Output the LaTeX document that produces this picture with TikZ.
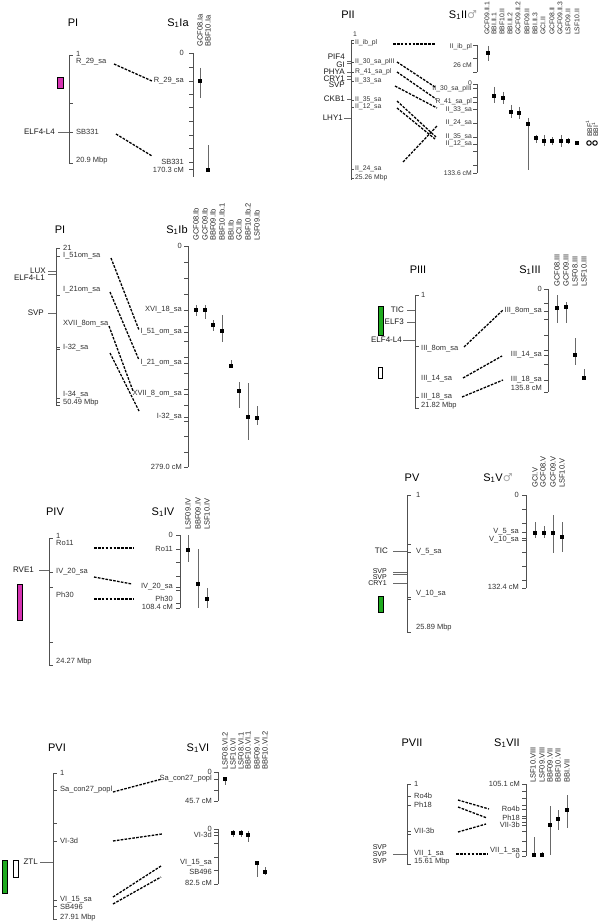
\documentclass[tikz,border=0pt]{standalone}
\usepackage{fontspec}
\setmainfont{Liberation Sans}
\newfontfamily\zdejavu{DejaVu Sans}
\definecolor{zmag}{RGB}{214,51,178}
\definecolor{zgrn}{RGB}{30,170,30}
\definecolor{zax}{RGB}{80,80,80}
\definecolor{zbarc}{RGB}{105,105,105}
\newcounter{zc}
\newcommand\zNid{\stepcounter{zc}\edef\zn{n\arabic{zc}}}
\newcommand\zTtl[3]{\zNid\node[zttl] (\zn) at (#1,#2) {#3};}
\newcommand\zCol[3]{\zNid\node[zclab,rotate=90,anchor=west] (\zn) at (#1,#2) {#3};}
\newcommand\zPax[3]{\draw[zaxis] (#1,#2) -- (#1,#3);}
\newcommand\zPtk[3][4]{\draw[zaxis] (#2,#3) -- ++(#1,0);}
\newcommand\zGtk[3][4]{\draw[zaxis] (#2,#3) -- ++(-#1,0);}
\newcommand\zMlab[3]{\zNid\node[zmlab,anchor=west] (\zn) at (#1,#2) {#3};}
\newcommand\zGlab[3]{\zNid\node[zmlab,anchor=east] (\zn) at (#1,#2) {#3};}
\newcommand\zGname[3]{\zNid\node[zglab,anchor=east] (\zn) at (#1,#2) {#3};}
\newcommand\zGline[3]{\draw[zgl] (#1,#2) -- ++(-#3,0);}
\newcommand\zDash[4]{\zNid\coordinate (\zn a) at (#1,#2);\coordinate (\zn b) at (#3,#4);\draw[zdash] (\zn a) -- (\zn b);}
\newcommand\zDpt[4]{\draw[zebar] (#1,#3) -- (#1,#4);\zNid\node[zsq] (\zn) at (#1,#2) {};}
\newcommand\zBox[5]{\draw[line width=1pt,fill=#5] (#1,#2) rectangle (#3,#4);}
\tikzset{
 zaxis/.style={draw=zax, line width=0.8pt},
 zgl/.style={draw=zbarc, line width=0.8pt},
 zttl/.style={font=\fontsize{11}{12}\selectfont, inner sep=0pt},
 zclab/.style={font=\fontsize{7.5}{8}\selectfont, inner sep=0pt, text=black!85},
 zmlab/.style={font=\fontsize{7.5}{8}\selectfont, inner sep=0pt, text=black!80},
 zglab/.style={font=\fontsize{8}{9}\selectfont, inner sep=0pt, text=black!90},
 zgsm/.style={font=\fontsize{7}{7}\selectfont},
 zdash/.style={line width=1.3pt, dash pattern=on 2.6pt off 1.3pt},
 zebar/.style={draw=zbarc, line width=0.9pt},
 zsq/.style={fill=black, minimum size=4.5pt, inner sep=0pt, rectangle},
 zcirc/.style={circle, draw=black, line width=1pt, minimum size=4.5pt, inner sep=0pt},
}
\begin{document}
\begin{tikzpicture}[x=1pt,y=-1pt]
\fill[white] (0,0) rectangle (600,923);
\useasboundingbox (0,0) rectangle (600,923);

% ---------------- Panel PI / S1Ia
\zTtl{73}{23}{PI}
\zTtl{178}{23}{S\textsubscript{1}Ia}
\zCol{200}{47}{GCF08.Ia}
\zCol{208}{47}{BBF10.Ia}
\zPax{69}{55}{163}
\foreach \y in {55,103,132,163} {\zPtk{69}{\y}}
\zMlab{76}{54}{1}
\zMlab{76}{62}{R\_29\_sa}
\zMlab{76}{132}{SB331}
\zMlab{76}{161}{20.9 Mbp}
\zGline{69}{132}{11}
\zGname{55}{132}{ELF4-L4}
\zBox{57}{78}{63}{89}{zmag}
\zDash{114}{64}{152}{81}
\zDash{116}{134}{152}{156}
\zPax{193}{53}{177}
\foreach \y in {53,67,81,94,107,121,135,148,162,169} {\zGtk{193}{\y}}
\zGlab{184}{53}{0}
\zGlab{184}{81}{R\_29\_sa}
\zGlab{184}{162}{SB331}
\zGlab{184}{169.5}{170.3 cM}
\zDpt{200}{81}{68}{98}
\zDpt{208}{170}{145}{170}

% ---------------- Panel PII / S1II
\begin{scope}[zmlab/.append style={font=\fontsize{6.8}{7}\selectfont},zclab/.append style={font=\fontsize{6.8}{7}\selectfont}]
\zTtl{348}{15}{PII}
\zTtl{463}{15}{S\textsubscript{1}II{\zdejavu\color{black!35}♂}}
\foreach \x/\t in {487/GCF09.II.1,494/BBI.II.1,502/BBF10.II,510/BBI.II.2,518/GCF09.II.2,527/BBF09.II,535/BBI.II.3,543/GCI.II,552/GCF08.II,560/GCF09.II.3,568/LSF09.II,577/LSF10.II} {\zCol{\x}{35}{\t}}
\zPax{351}{40}{180}
\foreach \y in {40,43,62,72,81,100,107,169,178} {\zPtk[3]{351}{\y}}
\zMlab{353}{34}{1}
\zMlab{355}{43}{II\_ib\_pl}
\zMlab{355}{62}{II\_30\_sa\_pIII}
\zMlab{355}{72}{R\_41\_sa\_pl}
\zMlab{355}{81}{II\_33\_sa}
\zMlab{355}{100}{II\_35\_sa}
\zMlab{355}{107}{II\_12\_sa}
\zMlab{355}{169}{II\_24\_sa}
\zMlab{355}{178}{25.26 Mbp}
\foreach \y in {61,63,72,76,79,99} {\zGline{351}{\y}{4}}
\zGline{351}{118}{7}
\zGname{345}{57}{PIF4}
\zGname{345}{64.5}{GI}
\zGname{345}{72}{PHYA}
\zGname{345}{78.5}{CRY1}
\zGname{345}{85}{SVP}
\zGname{345}{99}{CKB1}
\zGname{343}{118}{LHY1}
\zDash{393}{44}{435}{44}
\zDash{397}{62}{435}{87}
\zDash{397}{72}{436}{99}
\zDash{395}{86}{437}{108}
\zDash{397}{101}{436}{137}
\zDash{397}{108}{435}{139}
\zDash{403}{162}{437}{126}
\zPax{477}{45}{72}
\foreach \y in {45,58,72} {\zGtk{477}{\y}}
\zGlab{472}{47}{II\_ib\_pl}
\zGlab{472}{65}{26 cM}
\zPax{477}{84}{173}
\foreach \y in {84,88,97,102,109,123,137,144,151,165,173} {\zGtk{477}{\y}}
\zGlab{472}{83}{0}
\zGlab{472}{89}{II\_30\_sa\_pIII}
\zGlab{472}{102}{R\_41\_sa\_pl}
\zGlab{472}{109.5}{II\_33\_sa}
\zGlab{472}{123}{II\_24\_sa}
\zGlab{472}{137}{II\_35\_sa}
\zGlab{472}{144}{II\_12\_sa}
\zGlab{472}{173}{133.6 cM}
\zDpt{488}{53}{46}{61}
\zDpt{494}{96}{87}{103}
\zDpt{503}{98}{92}{104}
\zDpt{511}{112}{105}{118}
\zDpt{519}{113}{107}{119}
\zDpt{528}{124}{118}{170}
\zDpt{536}{138}{135}{143}
\zDpt{544}{141}{135}{146}
\zDpt{552}{141}{137}{145}
\zDpt{561}{141}{135}{147}
\zDpt{568}{141}{138}{144}
\zDpt{577}{143}{142}{144}
\zNid\node[zcirc] (\zn) at (589,143) {};
\zNid\node[zcirc] (\zn) at (595,143) {};
\zCol{589}{137}{BBF\textsuperscript{1}}
\zCol{595}{137}{BBI\textsuperscript{1}}
\end{scope}

% ---------------- Panel PI / S1Ib
\zTtl{60}{230}{PI}
\zTtl{177}{230}{S\textsubscript{1}Ib}
\foreach \x/\t in {196/GCF08.Ib,205/GCF09.Ib,213/BBF09.Ib,222/BBF10.Ib.1,231/BBI.Ib,239/GCI.Ib,248/BBF10.Ib.2,257/LSF09.Ib} {\zCol{\x}{241}{\t}}
\zPax{56}{248}{405}
\foreach \y in {248,256,295,347,349,398,402,405} {\zPtk{56}{\y}}
\zMlab{63}{248}{21}
\zMlab{63}{256}{I\_51om\_sa}
\zMlab{63}{290}{I\_21om\_sa}
\zMlab{63}{324}{XVII\_8om\_sa}
\zMlab{63}{348}{I-32\_sa}
\zMlab{63}{395}{I-34\_sa}
\zMlab{63}{403}{50.49 Mbp}
\foreach \y in {271,274,313} {\zGline{56}{\y}{8}}
\zGname{46}{271}{LUX}
\zGname{45}{278}{ELF4-L1}
\zGname{44}{313}{SVP}
\zDash{111}{258}{139}{330}
\zDash{110}{292}{139}{360}
\zDash{109}{326}{133}{391}
\zDash{110}{353}{139}{411}
\zPax{188}{246}{467}
\foreach \y in {246,262,278,294,310,326,332,341,357,363,373,389,394,405,417,421,436,452,467} {\zGtk{188}{\y}}
\zGlab{182}{246}{0}
\zGlab{182}{310}{XVI\_18\_sa}
\zGlab{182}{332}{I\_51\_om\_sa}
\zGlab{182}{363}{I\_21\_om\_sa}
\zGlab{182}{394}{XVII\_8\_om\_sa}
\zGlab{182}{417}{I-32\_sa}
\zGlab{182}{467}{279.0 cM}
\zDpt{196}{310}{305}{316}
\zDpt{205}{310}{305}{319}
\zDpt{213}{325}{320}{331}
\zDpt{222}{331}{315}{342}
\zDpt{231}{366}{360}{368}
\zDpt{239}{391}{382}{408}
\zDpt{248}{417}{383}{440}
\zDpt{257}{418}{406}{425}

% ---------------- Panel PIII / S1III
\zTtl{418}{270}{PIII}
\zTtl{530}{270}{S\textsubscript{1}III}
\foreach \x/\t in {557/GCF08.III,566/GCF09.III,575/LSF08.III,584/LSF10.III} {\zCol{\x}{287}{\t}}
\zPax{415}{295}{408}
\foreach \y in {295,346,397,408} {\zPtk{415}{\y}}
\zMlab{421}{295}{1}
\zMlab{421}{349}{III\_8om\_sa}
\zMlab{421}{379}{III\_14\_sa}
\zMlab{421}{397}{III\_18\_sa}
\zMlab{421}{406}{21.82 Mbp}
\zGline{415}{310}{8}
\zGline{415}{322}{8}
\zGline{415}{340}{12}
\zGname{404}{310}{TIC}
\zGname{404}{322}{ELF3}
\zGname{402}{340}{ELF4-L4}
\zBox{378}{306}{383}{335}{zgrn}
\zBox{378}{367}{382}{378}{white}
\zDash{464}{347}{503}{310}
\zDash{463}{378}{502}{356}
\zDash{462}{397}{503}{380}
\zPax{548}{289}{392}
\foreach \y in {289,303,311,319,335,350,355,364,380,392} {\zGtk{548}{\y}}
\zGlab{542}{289}{0}
\zGlab{542}{311}{III\_8om\_sa}
\zGlab{542}{355}{III\_14\_sa}
\zGlab{542}{380}{III\_18\_sa}
\zGlab{542}{387.5}{135.8 cM}
\zDpt{557}{308}{295}{323}
\zDpt{566}{307}{302}{323}
\zDpt{575}{355}{338}{365}
\zDpt{584}{378}{369}{380}

% ---------------- Panel PIV / S1IV
\zTtl{55}{512}{PIV}
\zTtl{163}{512}{S\textsubscript{1}IV}
\foreach \x/\t in {188/LSF09.IV,198/BBF09.IV,207/LSF10.IV} {\zCol{\x}{530}{\t}}
\zPax{49}{538}{665}
\foreach \y in {538,572,587,642,665} {\zPtk{49}{\y}}
\zMlab{56}{536}{1}
\zMlab{56}{543}{Ro11}
\zMlab{56}{572}{IV\_20\_sa}
\zMlab{56}{595}{Ph30}
\zMlab{56}{662}{24.27 Mbp}
\zGline{49}{570}{10}
\zGname{34}{570}{RVE1}
\zBox{17}{584}{22}{620}{zmag}
\zDash{94}{548}{134}{548}
\zDash{94}{577}{132}{584}
\zDash{94}{599}{134}{599}
\zPax{180}{535}{608}
\foreach \y in {535,549,562,576,587,590,603,608} {\zGtk{180}{\y}}
\zGlab{173}{535}{0}
\zGlab{173}{549}{Ro11}
\zGlab{173}{587}{IV\_20\_sa}
\zGlab{173}{599}{Ph30}
\zGlab{173}{607}{108.4 cM}
\zDpt{188}{550}{535}{562}
\zDpt{198}{584}{549}{608}
\zDpt{207}{599}{588}{608}

% ---------------- Panel PV / S1V
\zTtl{412}{478}{PV}
\zTtl{498}{478}{S\textsubscript{1}V{\zdejavu\color{black!35}♂}}
\foreach \x/\t in {535/GCI.V,543/GCF08.V,553/GCF09.V,562/LSF10.V} {\zCol{\x}{488}{\t}}
\zPax{407}{495}{632}
\foreach \y in {495,544,552,597,599,632} {\zPtk{407}{\y}}
\zMlab{416}{495}{1}
\zMlab{416}{552}{V\_5\_sa}
\zMlab{416}{594}{V\_10\_sa}
\zMlab{416}{628}{25.89 Mbp}
\foreach \y in {551,572,574,583} {\zGline{407}{\y}{14}}
\zGname{388}{551}{TIC}
\begin{scope}[zglab/.append style={zgsm}]
\zGname{387}{571}{SVP}
\zGname{387}{577}{SVP}
\zGname{387}{583}{CRY1}
\end{scope}
\zBox{378}{596}{383}{612}{zgrn}
\zPax{526}{495}{588}
\foreach \y in {495,509,523,532,538,540,552,566,580,588} {\zGtk{526}{\y}}
\zGlab{519}{495}{0}
\zGlab{519}{532}{V\_5\_sa}
\zGlab{519}{540}{V\_10\_sa}
\zGlab{519}{587}{132.4 cM}
\zDpt{535}{533}{522}{538}
\zDpt{544}{533}{526}{538}
\zDpt{553}{533}{515}{553}
\zDpt{562}{537}{522}{552}

% ---------------- Panel PVI / S1VI
\zTtl{57}{748}{PVI}
\zTtl{198}{748}{S\textsubscript{1}VI}
\foreach \x/\t in {225/LSF08.VI.2,233/LSF10.VI,241/LSF08.VI.1,248/BBF10.VI.1,257/BBF09.VI,265/BBF10.VI.2} {\zCol{\x}{770}{\t}}
\zPax{53}{773}{919}
\foreach \y in {773,790,823,841,900,906,919} {\zPtk{53}{\y}}
\zMlab{60}{773}{1}
\zMlab{60}{790}{Sa\_con27\_popl}
\zMlab{60}{841}{VI-3d}
\zMlab{60}{900}{VI\_15\_sa}
\zMlab{60}{906.5}{SB496}
\zMlab{60}{918}{27.91 Mbp}
\zGline{53}{862}{13}
\zGname{38}{862}{ZTL}
\zBox{2}{860}{7}{893}{zgrn}
\zBox{13}{860}{18}{877}{white}
\zDash{113}{792}{162}{779}
\zDash{113}{841}{162}{834}
\zDash{113}{897}{161}{866}
\zDash{113}{904}{161}{877}
\zPax{218}{772}{801}
\foreach \y in {772,779,790,801} {\zGtk{218}{\y}}
\zGlab{212}{772}{0}
\zGlab{212}{779}{Sa\_con27\_popl}
\zGlab{212}{801}{45.7 cM}
\zPax{218}{829}{884}
\foreach \y in {829,832,835,843,857,870,884} {\zGtk{218}{\y}}
\zGlab{212}{829}{0}
\zGlab{212}{835}{VI-3d}
\zGlab{212}{863}{VI\_15\_sa}
\zGlab{212}{872}{SB496}
\zGlab{212}{883}{82.5 cM}
\zDpt{225}{779}{777}{785}
\zDpt{233}{833}{830}{837}
\zDpt{241}{833}{830}{837}
\zDpt{248}{835}{831}{842}
\zDpt{257}{863}{863}{877}
\zDpt{265}{872}{867}{875}

% ---------------- Panel PVII / S1VII
\zTtl{412}{743}{PVII}
\zTtl{507}{743}{S\textsubscript{1}VII}
\foreach \x/\t in {533/LSF10.VIII,542/LSF09.VIII,550/BBF09.VII,558/BBF10.VII,567/BBI.VII} {\zCol{\x}{783}{\t}}
\zPax{407}{784}{864}
\foreach \y in {784,796,805,831,834,864} {\zPtk{407}{\y}}
\zMlab{414}{784}{1}
\zMlab{414}{796}{Ro4b}
\zMlab{414}{805}{Ph18}
\zMlab{414}{831}{VII-3b}
\zMlab{414}{854}{VII\_1\_sa}
\zMlab{414}{862}{15.61 Mbp}
\zGline{407}{854}{14}
\begin{scope}[zglab/.append style={zgsm}]
\zGname{387}{847}{SVP}
\zGname{387}{854}{SVP}
\zGname{387}{861}{SVP}
\end{scope}
\zDash{458}{800}{489}{809}
\zDash{458}{807}{487}{818}
\zDash{458}{832}{486}{824}
\zDash{456}{854}{488}{854}
\zPax{526}{784}{856}
\foreach \y in {784,791,798,805,809,816,818,822,825,831,841,851,856} {\zGtk{526}{\y}}
\zGlab{520}{784}{105.1 cM}
\zGlab{520}{809}{Ro4b}
\zGlab{520}{818}{Ph18}
\zGlab{520}{825}{VII-3b}
\zGlab{520}{851}{VII\_1\_sa}
\zGlab{520}{856}{0}
\zDpt{534}{855}{837}{855}
\zDpt{542}{855}{852}{856}
\zDpt{550}{825}{806}{855}
\zDpt{558}{819}{810}{830}
\zDpt{567}{810}{795}{828}
\end{tikzpicture}
\end{document}
